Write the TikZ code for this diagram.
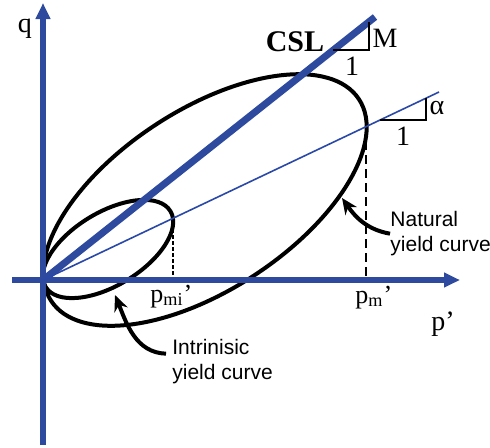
\documentclass[tikz,border=0pt]{standalone}
\usepackage{fontspec}
\setmainfont{Liberation Serif}
\setsansfont{Liberation Sans}
\usetikzlibrary{arrows.meta, calc}
\definecolor{axisblue}{HTML}{2D4A9E}
\definecolor{lineblue}{HTML}{2A48A8}
\colorlet{curvecol}{black}

\begin{document}
\begin{tikzpicture}[
    x=0.5pt, y=0.5pt,
    >=Stealth,
    axis/.style={axisblue, line width=3pt, -{Triangle[length=8pt, width=7pt]}},
    csl/.style={axisblue, line width=3.5pt},
    slopeline/.style={lineblue, line width=0.8pt},
    yieldcurve/.style={curvecol, line width=2pt},
    droplong/.style={black, line width=1pt, dash pattern=on 4.5pt off 2.5pt},
    dropshort/.style={black, line width=1pt, dash pattern=on 2pt off 1pt},
    slopetri/.style={black, line width=0.8pt},
    lbl/.style={font=\fontsize{14}{16}\selectfont, inner sep=0pt},
    sublbl/.style={font=\fontsize{13}{15}\selectfont, inner sep=0pt, anchor=base west},
    note/.style={font=\sffamily\fontsize{10.5}{12.5}\selectfont, align=left,
                 inner sep=0pt, anchor=north west},
    callout/.style={black, line width=2pt, -{Stealth[length=8pt, width=7pt]}},
]

\useasboundingbox (0,0) rectangle (490,447);

% key points
\coordinate (O) at (43,167);
\coordinate (qfoot) at (43,2);
\coordinate (qtip) at (43,444);
\coordinate (pstart) at (12,167);
\coordinate (ptip) at (460,167);
\coordinate (cslend) at (375,430);
\coordinate (alphaend) at (439,355);
\coordinate (pm) at (366,320);
\coordinate (pmi) at (173,224);
\coordinate (ntip) at (342,249);
\coordinate (itip) at (115,152);

% yield curves
\draw[yieldcurve] (205,247) ellipse [x radius=184, y radius=90, rotate=33.2];
\draw[yieldcurve] (108,198) ellipse [x radius=73, y radius=36.5, rotate=31.3];

% drops to the p' axis
\draw[droplong] (pm) -- (pm |- O);
\draw[dropshort] (pmi) -- (pmi |- O);

% axes
\draw[axis] (qfoot) -- (qtip);
\draw[axis] (pstart) -- (ptip);

% CSL and the slope line
\draw[csl] (O) -- (cslend);
\draw[slopeline] (O) -- (alphaend);
\draw[slopetri] (333,397) -- (369,397) -- (369,425);
\draw[slopetri] (380,327) -- (426,327) -- (426,349);

% labels
\node[lbl] (qlab) at (25,418) {q};
\node[lbl] (plab) at (443,123) {p’};
\node[lbl, font=\bfseries\fontsize{15}{17}\selectfont] (csllab) at (295,405) {CSL};
\node[lbl] (mlab) at (385,409) {M};
\node[lbl] (onem) at (352,381) {1};
\node[lbl] (alab) at (437,339) {α};
\node[lbl] (onea) at (403,311) {1};
\node[sublbl] (pmilab) at (150,145) {p\textsubscript{mi}’};
\node[sublbl] (pmlab) at (355,144) {p\textsubscript{m}’};

\node[note] (natlab) at (390,236) {Natural\\yield curve};
\node[note] (intlab) at (172,108) {Intrinisic\\yield curve};

\draw[callout] (natlab.west) to[out=170, in=-55] (ntip);
\draw[callout] ([xshift=-3pt, yshift=4pt]intlab.west) to[out=178, in=-68] (itip);

\end{tikzpicture}
\end{document}
